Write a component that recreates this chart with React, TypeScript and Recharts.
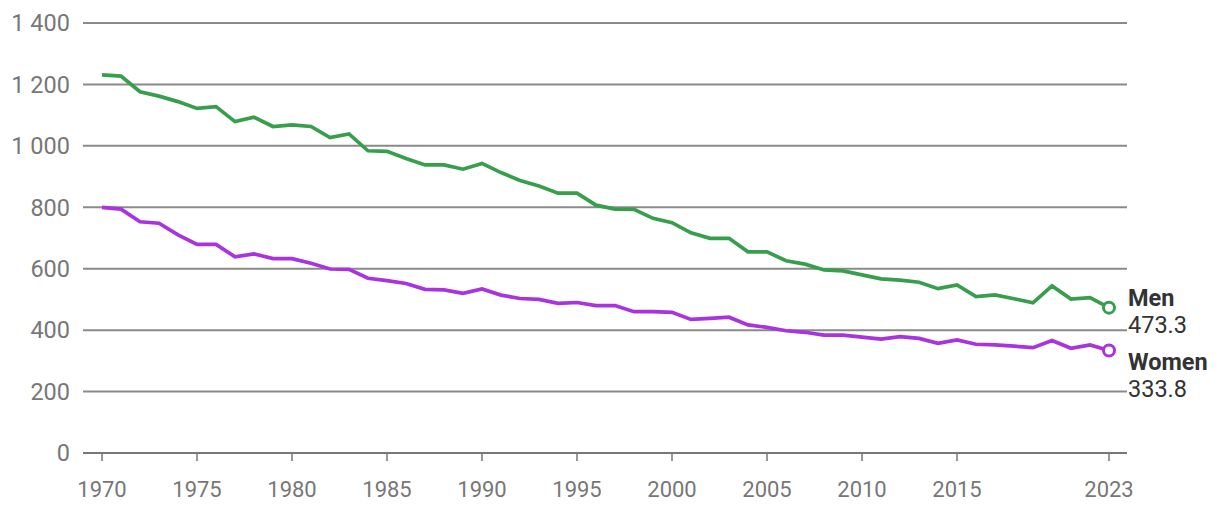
import { LineChart, Line, XAxis, YAxis, CartesianGrid } from "recharts";

const years = [
  1970, 1971, 1972, 1973, 1974, 1975, 1976, 1977, 1978, 1979, 1980, 1981, 1982,
  1983, 1984, 1985, 1986, 1987, 1988, 1989, 1990, 1991, 1992, 1993, 1994, 1995,
  1996, 1997, 1998, 1999, 2000, 2001, 2002, 2003, 2004, 2005, 2006, 2007, 2008,
  2009, 2010, 2011, 2012, 2013, 2014, 2015, 2016, 2017, 2018, 2019, 2020, 2021,
  2022, 2023,
];

const men = [
  1231, 1227, 1176, 1162, 1144, 1122, 1128, 1079, 1093, 1063, 1068, 1063, 1027,
  1039, 984, 982, 959, 938, 938, 924, 943, 913, 887, 869, 846, 846, 807, 794,
  793, 764, 750, 717, 699, 699, 655, 655, 626, 615, 596, 593, 580, 567, 563,
  556, 535, 547, 509, 515, 502, 489, 544, 501, 506, 473.3,
];

const women = [
  800, 794, 753, 748, 710, 679, 679, 639, 648, 633, 633, 618, 599, 598, 569,
  561, 552, 533, 531, 520, 534, 514, 503, 500, 487, 490, 480, 480, 460, 460,
  458, 435, 438, 442, 417, 409, 398, 393, 384, 384, 377, 371, 379, 373, 357,
  368, 354, 352, 348, 343, 366, 341, 352, 333.8,
];

const xTicks = [1970, 1975, 1980, 1985, 1990, 1995, 2000, 2005, 2010, 2015, 2023];
const yTicks = [0, 200, 400, 600, 800, 1000, 1200, 1400];

const data = years.map((year, i) => ({ year, men: men[i], women: women[i] }));
const last = years.length - 1;

const GREEN = "#379f4c";
const PURPLE = "#a933de";
const FONT = "Roboto, sans-serif";

const fmtY = (v: number) => String(v).replace(/\B(?=(\d{3})+(?!\d))/g, " ");

function endDot(color: string) {
  return (props: any) => {
    const { cx, cy, index } = props;
    if (index !== last) return <g key={`d-${index}`} />;
    return (
      <circle
        key={`d-${index}`}
        cx={cx}
        cy={cy}
        r={5.5}
        fill="#fff"
        stroke={color}
        strokeWidth={3}
      />
    );
  };
}

function endLabel(name: string, shift: number) {
  return (props: any) => {
    const { x, y, index, value } = props;
    if (index !== last) return <g key={`l-${index}`} />;
    return (
      <g key={`l-${index}`} fontFamily={FONT} fontSize={23.5} fill="#333">
        <text x={x + 19} y={y + shift} fontWeight="bold">
          {name}
        </text>
        <text x={x + 19} y={y + shift + 27}>
          {Number(value).toFixed(1)}
        </text>
      </g>
    );
  };
}

export default function App() {
  return (
    <LineChart
      width={1204}
      height={498}
      data={data}
      margin={{ top: 15, right: 85, bottom: 0, left: 0 }}
    >
      <CartesianGrid vertical={false} stroke="#8a8a8a" strokeWidth={2} />
      <XAxis
        dataKey="year"
        type="number"
        domain={[1970, 2023]}
        ticks={xTicks}
        padding={{ left: 19, right: 18 }}
        height={53}
        axisLine={{ stroke: "#777", strokeWidth: 2 }}
        tickLine={{ stroke: "#777", strokeWidth: 1.5 }}
        tickSize={8}
        tickMargin={20}
        tick={{ fill: "#777", fontSize: 22, fontFamily: FONT }}
        interval={0}
      />
      <YAxis
        width={75}
        domain={[0, 1400]}
        ticks={yTicks}
        axisLine={false}
        tickLine={false}
        tickSize={0}
        tickMargin={13}
        tickFormatter={fmtY}
        tick={{ fill: "#777", fontSize: 23.5, fontFamily: FONT }}
      />
      <Line
        dataKey="men"
        stroke={GREEN}
        strokeWidth={3.7}
        dot={endDot(GREEN)}
        activeDot={false}
        label={endLabel("Men", -2)}
        isAnimationActive={false}
      />
      <Line
        dataKey="women"
        stroke={PURPLE}
        strokeWidth={3.7}
        dot={endDot(PURPLE)}
        activeDot={false}
        label={endLabel("Women", 20)}
        isAnimationActive={false}
      />
    </LineChart>
  );
}
